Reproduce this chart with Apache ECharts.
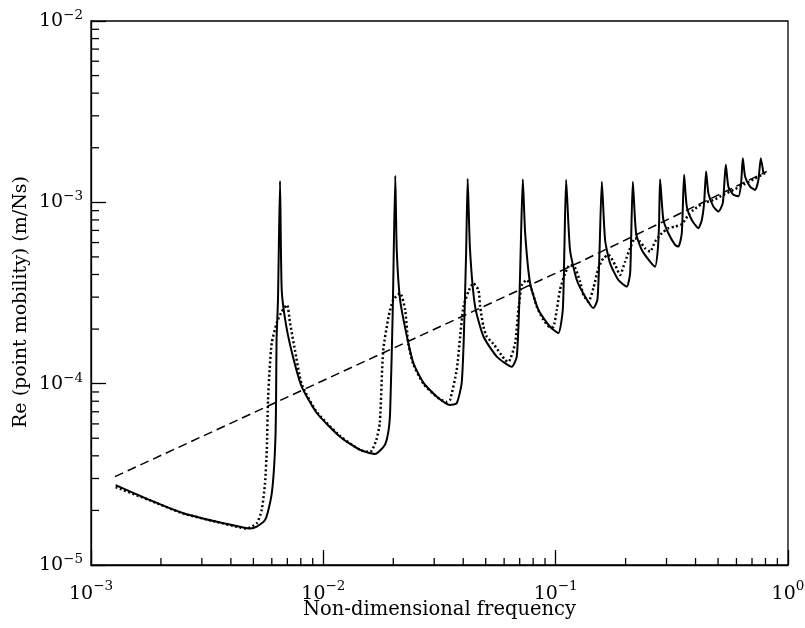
<!DOCTYPE html>
<html><head><meta charset="utf-8">
<script src="https://cdn.jsdelivr.net/npm/echarts@6/dist/echarts.min.js"></script>
<style>html,body{margin:0;padding:0;background:#fff}#c{width:805px;height:628px}</style>
</head><body><div id="c"></div>
<script>
// axis ranges and ticks
const xRange = [1e-3, 1];
const yRange = [1e-5, 1e-2];
const xMinorTicks = [0.002,0.003,0.004,0.005,0.006,0.007,0.008,0.009,
  0.02,0.03,0.04,0.05,0.06,0.07,0.08,0.09,
  0.2,0.3,0.4,0.5,0.6,0.7,0.8,0.9];
const yMinorTicks = [2e-5,3e-5,4e-5,5e-5,6e-5,7e-5,8e-5,9e-5,
  2e-4,3e-4,4e-4,5e-4,6e-4,7e-4,8e-4,9e-4,
  2e-3,3e-3,4e-3,5e-3,6e-3,7e-3,8e-3,9e-3];

// solid curve
const freqSolid = [
  1.277e-3, 1.795e-3, 2.50e-3, 3.48e-3, 4.52e-3, 4.84e-3, 5.17e-3, 5.61e-3, 5.80e-3, 6.00e-3,
  6.14e-3, 6.23e-3, 6.26e-3, 6.29e-3, 6.38e-3, 6.51e-3, 6.62e-3, 6.91e-3, 7.41e-3, 8.07e-3,
  9.37e-3, 0.0118, 0.0144, 0.0167, 0.0184, 0.0191, 0.0194, 0.0199, 0.0204, 0.0207,
  0.0214, 0.0229, 0.0244, 0.0270, 0.0308, 0.0351, 0.0375, 0.0394, 0.0403, 0.0412,
  0.0418, 0.0428, 0.0450, 0.0489, 0.0558, 0.0647, 0.0680, 0.0698, 0.0710, 0.0722,
  0.0739, 0.0776, 0.0843, 0.0946, 0.1027, 0.1073, 0.1090, 0.1109, 0.1153, 0.1233,
  0.1339, 0.1453, 0.1512, 0.1542, 0.1580, 0.1632, 0.1715, 0.1862, 0.2024, 0.2091,
  0.2112, 0.2148, 0.2219, 0.2348, 0.2549, 0.2679, 0.2751, 0.2787, 0.2814, 0.2908,
  0.3056, 0.3266, 0.3375, 0.3490, 0.3571, 0.3668, 0.3854, 0.4115, 0.4256, 0.4354,
  0.4441, 0.4544, 0.4775, 0.5016, 0.5240, 0.5398, 0.5539, 0.5821, 0.6116, 0.6282,
  0.6389, 0.6536, 0.6868, 0.7218, 0.7458, 0.7637, 0.7838
];
const mobSolid = [
  2.76e-5, 2.28e-5, 1.93e-5, 1.73e-5, 1.61e-5, 1.59e-5, 1.63e-5, 1.77e-5, 2.01e-5, 2.49e-5,
  3.49e-5, 5.35e-5, 8.13e-5, 1.74e-4, 2.90e-4, 1.31e-3, 3.29e-4, 2.11e-4, 1.40e-4, 9.63e-5,
  6.89e-5, 5.10e-5, 4.31e-5, 4.10e-5, 4.59e-5, 5.56e-5, 7.16e-5, 2.55e-4, 1.40e-3, 5.46e-4,
  2.90e-4, 1.82e-4, 1.30e-4, 1.01e-4, 8.48e-5, 7.63e-5, 7.80e-5, 1.01e-4, 1.90e-4, 5.46e-4,
  1.35e-3, 5.46e-4, 2.66e-4, 1.82e-4, 1.41e-4, 1.24e-4, 1.41e-4, 2.90e-4, 6.78e-4, 1.34e-3,
  6.78e-4, 3.59e-4, 2.55e-4, 2.06e-4, 1.90e-4, 2.55e-4, 5.46e-4, 1.33e-3, 5.46e-4, 3.73e-4,
  3.02e-4, 2.61e-4, 2.90e-4, 5.02e-4, 1.30e-3, 6.20e-4, 4.61e-4, 3.73e-4, 3.43e-4, 4.06e-4,
  6.20e-4, 1.30e-3, 6.75e-4, 5.46e-4, 4.71e-4, 4.42e-4, 5.46e-4, 7.67e-4, 1.34e-3, 8.00e-4,
  6.75e-4, 5.82e-4, 5.70e-4, 6.75e-4, 1.42e-3, 9.47e-4, 8.00e-4, 7.20e-4, 8.00e-4, 9.89e-4,
  1.48e-3, 1.12e-3, 9.47e-4, 8.89e-4, 9.89e-4, 1.61e-3, 1.22e-3, 1.10e-3, 1.08e-3, 1.27e-3,
  1.75e-3, 1.39e-3, 1.22e-3, 1.17e-3, 1.33e-3, 1.75e-3, 1.45e-3
];

// dotted curve
const freqDotted = [
  1.277e-3, 1.795e-3, 2.50e-3, 3.48e-3, 4.38e-3, 4.69e-3, 5.17e-3, 5.43e-3, 5.61e-3, 5.71e-3,
  5.78e-3, 5.87e-3, 6.00e-3, 6.30e-3, 6.62e-3, 6.98e-3, 7.19e-3, 7.55e-3, 8.07e-3, 9.37e-3,
  0.0118, 0.0144, 0.0159, 0.0169, 0.0175, 0.0181, 0.0191, 0.0200, 0.0214, 0.0225,
  0.0232, 0.0244, 0.0270, 0.0308, 0.0338, 0.0351, 0.0375, 0.0388, 0.0401, 0.0421,
  0.0442, 0.0465, 0.0473, 0.0489, 0.0505, 0.0539, 0.0606, 0.0626, 0.0669, 0.0691,
  0.0715, 0.0751, 0.0789, 0.0829, 0.0885, 0.0946, 0.0978, 0.1011, 0.1044, 0.1098,
  0.1153, 0.1212, 0.1274, 0.1316, 0.1383, 0.1453, 0.1527, 0.1605, 0.1686, 0.1802,
  0.1893, 0.1990, 0.2091, 0.2197, 0.2309, 0.2426, 0.2549, 0.2679, 0.2862, 0.3056,
  0.3266, 0.3490, 0.3726, 0.3915, 0.4324, 0.4775, 0.5272, 0.5821, 0.6427, 0.7098,
  0.797
];
const mobDotted = [
  2.69e-5, 2.27e-5, 1.92e-5, 1.73e-5, 1.61e-5, 1.59e-5, 1.70e-5, 2.01e-5, 2.82e-5, 4.31e-5,
  8.13e-5, 1.19e-4, 1.68e-4, 2.16e-4, 2.50e-4, 2.72e-4, 2.16e-4, 1.53e-4, 9.96e-5, 6.98e-5,
  5.15e-5, 4.31e-5, 4.20e-5, 4.89e-5, 6.07e-5, 1.53e-4, 2.34e-4, 2.90e-4, 3.15e-4, 2.55e-4,
  1.67e-4, 1.28e-4, 9.96e-5, 8.45e-5, 7.93e-5, 8.13e-5, 1.19e-4, 1.82e-4, 2.66e-4, 3.22e-4,
  3.58e-4, 3.29e-4, 2.66e-4, 2.06e-4, 1.82e-4, 1.66e-4, 1.35e-4, 1.32e-4, 1.67e-4, 2.55e-4,
  3.50e-4, 3.73e-4, 3.29e-4, 2.66e-4, 2.25e-4, 2.05e-4, 2.06e-4, 2.55e-4, 3.29e-4, 4.06e-4,
  4.52e-4, 4.35e-4, 3.65e-4, 3.09e-4, 2.83e-4, 3.36e-4, 4.33e-4, 4.92e-4, 5.13e-4, 4.52e-4,
  3.98e-4, 4.71e-4, 5.58e-4, 6.34e-4, 6.07e-4, 5.58e-4, 5.35e-4, 6.07e-4, 6.75e-4, 7.20e-4,
  7.35e-4, 7.57e-4, 8.52e-4, 9.08e-4, 9.89e-4, 1.03e-3, 1.10e-3, 1.17e-3, 1.25e-3, 1.34e-3,
  1.45e-3
];

// dashed line
const freqDashed = [1.268e-3, 0.1274, 0.810];
const mobDashed = [3.07e-5, 4.69e-4, 1.48e-3];

const FONT = 'DejaVu Serif';
const zip = (a, b) => a.map((v, i) => [v, b[i]]);
const supLabel = v => {
  const e = Math.round(Math.log10(v));
  return '{b|10}{s|' + (e < 0 ? '\u2212' : '') + Math.abs(e) + '}';
};

const chart = echarts.init(document.getElementById('c'), null, {renderer: 'canvas'});
const tickStyle = {stroke: '#000', lineWidth: 1.3};

chart.setOption({
  animation: false,
  backgroundColor: '#fff',
  grid: {left: 91, right: 17, top: 21, bottom: 63, outerBoundsMode: 'none', containLabel: false,
    show: true, borderColor: '#000', borderWidth: 1.3, backgroundColor: 'transparent'},
  xAxis: {
    type: 'log', logBase: 10, min: xRange[0], max: xRange[1],
    name: 'Non-dimensional frequency', nameLocation: 'middle', nameGap: 35, nameMoveOverlap: false,
    nameTextStyle: {fontFamily: FONT, fontSize: 19.5, color: '#000', verticalAlign: 'top'},
    axisLine: {show: true, lineStyle: {color: '#000', width: 1.3}},
    axisTick: {show: true, inside: true, length: 15, lineStyle: {color: '#000', width: 1.3}},
    splitLine: {show: false},
    axisLabel: {
      margin: 17, color: '#000', fontFamily: FONT, formatter: supLabel,
      rich: {
        b: {fontFamily: FONT, fontSize: 19, lineHeight: 19, padding: [6, 0, 0, 0], color: '#000'},
        s: {fontFamily: FONT, fontSize: 13.5, lineHeight: 14, padding: [0, 0, 11, 0], color: '#000'}
      }
    }
  },
  yAxis: {
    type: 'log', logBase: 10, min: yRange[0], max: yRange[1],
    name: 'Re (point mobility) (m/Ns)', nameLocation: 'middle', nameGap: 60, nameMoveOverlap: false,
    nameTextStyle: {fontFamily: FONT, fontSize: 19, color: '#000', padding: [0, 18, 0, 0]},
    axisLine: {show: true, lineStyle: {color: '#000', width: 1.3}},
    axisTick: {show: true, inside: true, length: 15, lineStyle: {color: '#000', width: 1.3}},
    splitLine: {show: false},
    axisLabel: {
      margin: 8, color: '#000', fontFamily: FONT, formatter: supLabel,
      rich: {
        b: {fontFamily: FONT, fontSize: 19, lineHeight: 19, padding: [3, 0, 3, 0], color: '#000'},
        s: {fontFamily: FONT, fontSize: 13.5, lineHeight: 14, padding: [0, 0, 11, 0], color: '#000'}
      }
    }
  },
  series: [
    {
      type: 'line', data: zip(freqDashed, mobDashed), showSymbol: false, silent: true, z: 2,
      lineStyle: {color: '#000', width: 1.5, type: [9, 5]}
    },
    {
      type: 'line', data: zip(freqDotted, mobDotted), showSymbol: false, silent: true, z: 3,
      smooth: 0.2,
      lineStyle: {color: '#000', width: 2.5, type: [2, 2.5], cap: 'butt'}
    },
    {
      type: 'line', data: zip(freqSolid, mobSolid), showSymbol: false, silent: true, z: 4,
      smooth: 0.2,
      lineStyle: {color: '#000', width: 2, join: 'round'}
    },
    {
      type: 'custom', silent: true, z: 5, clip: false,
      data: xMinorTicks.map(v => [v, yRange[0]]),
      renderItem: (params, api) => {
        const p = api.coord([api.value(0), api.value(1)]);
        return {type: 'line', shape: {x1: p[0], y1: p[1], x2: p[0], y2: p[1] - 7}, style: tickStyle};
      }
    },
    {
      type: 'custom', silent: true, z: 5, clip: false,
      data: yMinorTicks.map(v => [xRange[0], v]),
      renderItem: (params, api) => {
        const p = api.coord([api.value(0), api.value(1)]);
        return {type: 'line', shape: {x1: p[0], y1: p[1], x2: p[0] + 8, y2: p[1]}, style: tickStyle};
      }
    }
  ]
});
</script>
</body></html>
